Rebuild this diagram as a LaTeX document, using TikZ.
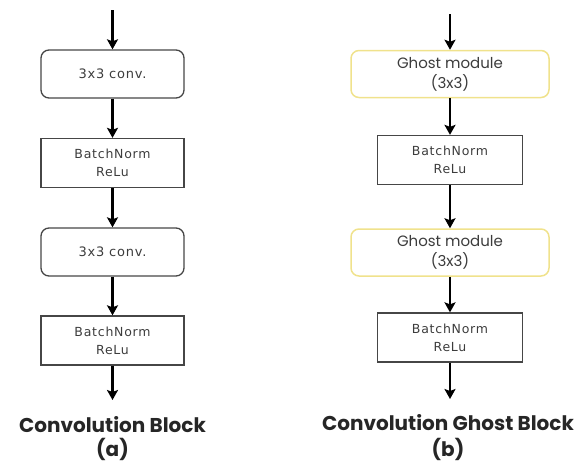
\documentclass[tikz,border=0pt]{standalone}
\usepackage{fontspec}
\setmainfont{DejaVu Sans}
\newfontfamily\boxfont{DejaVu Sans}[LetterSpace=6]
\newfontfamily\popfont{Poppins}
\usetikzlibrary{arrows.meta}
\definecolor{ghostyellow}{RGB}{240,226,140}
\definecolor{edgegray}{RGB}{70,70,70}
\definecolor{textgray}{RGB}{60,60,60}
\tikzset{
  convbox/.style={draw=edgegray,line width=1.3pt,rounded corners=8pt,minimum width=143pt,minimum height=48pt,inner sep=0pt,align=center,text=textgray,font=\boxfont\fontsize{13}{18}\selectfont},
  normbox/.style={draw=edgegray,line width=1.3pt,minimum width=143pt,minimum height=49pt,inner sep=0pt,align=center,text=textgray,font=\boxfont\fontsize{12.5}{18}\selectfont},
  ghostbox/.style={draw=ghostyellow,line width=1.5pt,rounded corners=8pt,minimum width=198pt,minimum height=47pt,inner sep=0pt,align=center,text=textgray,font=\popfont\fontsize{15}{20}\selectfont},
  flow/.style={-{Stealth[length=10pt,width=11pt,inset=2pt]},line width=2.2pt},
  blocktitle/.style={align=center,inner sep=0pt,text=black!85,font=\popfont\bfseries\fontsize{20}{22}\selectfont}
}
\begin{document}
\begin{tikzpicture}[x=1pt,y=-1pt]
\useasboundingbox (0,0) rectangle (584,464);

% (a) convolution block
\coordinate (ina) at (112.5,10);
\node[convbox] (conva) at (112.5,74) {3x3 conv.};
\node[normbox] (norma) at (112.5,163) {BatchNorm\\ReLu};
\node[convbox] (convb) at (112.5,252) {3x3 conv.};
\node[normbox] (normb) at (112.5,340.5) {BatchNorm\\ReLu};
\coordinate (outa) at (112.5,400);

\draw[flow] (ina)--(conva);
\draw[flow] (conva)--(norma);
\draw[flow] (norma)--(convb);
\draw[flow] (convb)--(normb);
\draw[flow] (normb)--(outa);

\node[blocktitle] (titlea) at (112.5,425) {Convolution Block};
\node[blocktitle] (laba) at (112.5,449) {(a)};

% (b) convolution ghost block
\coordinate (inb) at (450,14);
\node[ghostbox] (ghosta) at (450,74) {Ghost module\\(3x3)};
\node[normbox,minimum width=145pt] (normc) at (450,160) {BatchNorm\\ReLu};
\node[ghostbox] (ghostb) at (450,252.5) {Ghost module\\(3x3)};
\node[normbox,minimum width=145pt] (normd) at (450,337.5) {BatchNorm\\ReLu};
\coordinate (outb) at (450,399);

\draw[flow] (inb)--(ghosta);
\draw[flow] (ghosta)--(normc);
\draw[flow] (normc)--(ghostb);
\draw[flow] (ghostb)--(normd);
\draw[flow] (normd)--(outb);

\node[blocktitle] (titleb) at (448,423) {Convolution Ghost Block};
\node[blocktitle] (labb) at (448,449) {(b)};
\end{tikzpicture}
\end{document}
